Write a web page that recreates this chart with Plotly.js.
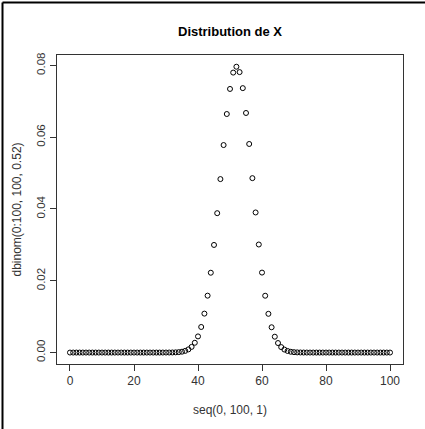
<!DOCTYPE html>
<html>
<head>
<meta charset="utf-8">
<script src="https://cdn.plot.ly/plotly-3.0.1.min.js"></script>
<style>
html,body{margin:0;padding:0;background:#fff;}
#plot{width:425px;height:429px;}
</style>
</head>
<body>
<div id="plot"></div>
<script>
const xValues = [0,1,2,3,4,5,6,7,8,9,10,11,12,13,14,15,16,17,18,19,20,
  21,22,23,24,25,26,27,28,29,30,31,32,33,34,35,36,37,38,39,40,
  41,42,43,44,45,46,47,48,49,50,51,52,53,54,55,56,57,58,59,60,
  61,62,63,64,65,66,67,68,69,70,71,72,73,74,75,76,77,78,79,80,
  81,82,83,84,85,86,87,88,89,90,91,92,93,94,95,96,97,98,99,100];
const probValues = [
  0,0,0,0,0,0,0,0,0,0,
  0,0,0,0,0,0,0,0,0,0,
  0,0,0,0,0,0,0.00000008,0.00000022,0.00000062,0.00000168,
  0.00000431,0.00001055,0.00002465,0.00005503,0.0001175,0.0002400,0.0004694,0.0008797,0.001580,0.002721,
  0.004496,0.007127,0.01085,0.01585,0.02224,0.02998,0.03883,0.04833,0.05781,0.06646,
  0.07344,0.07800,0.07963,0.07813,0.07367,0.06675,0.05811,0.04859,0.03903,0.03010,
  0.02228,0.01583,0.01079,0.007050,0.004415,0.002649,0.001522,0.0008367,0.0004399,0.0002210,
  0.0001060,0.00004853,0.00002118,0.0000088,0.00000348,0.00000131,0.00000047,0.00000016,0.00000005,0,
  0,0,0,0,0,0,0,0,0,0,
  0,0,0,0,0,0,0,0,0,0,
  0];
const xTickVals = [0,20,40,60,80,100];
const xTickText = ['0','20','40','60','80','100'];
const yTickVals = [0,0.02,0.04,0.06,0.08];
const yTickText = ['0.00','0.02','0.04','0.06','0.08'];
const titleText = 'Distribution de X';
const xTitle = 'seq(0, 100, 1)';
const yTitle = 'dbinom(0:100, 100, 0.52)';

const W = 425, H = 429;
const L = 57, R = 22, T = 55, B = 65;
const pw = W - L - R, ph = H - T - B;
function px(xp){ return (xp - L) / pw; }
function py(yp){ return (H - B - yp) / ph; }

const fontFam = '"Liberation Sans", Arial, Helvetica, sans-serif';
const axCol = '#333';

const trace = {
  x: xValues,
  y: probValues,
  type: 'scatter',
  mode: 'markers',
  marker: {symbol: 'circle-open', size: 5, color: '#000', line: {width: 1, color: '#000'}},
  hoverinfo: 'x+y'
};

const layout = {
  width: W, height: H,
  margin: {l: L, r: R, t: T, b: B, pad: 0},
  paper_bgcolor: '#fff',
  plot_bgcolor: '#fff',
  showlegend: false,
  font: {family: fontFam, size: 12, color: '#222'},
  title: {text: '<b>' + titleText + '</b>', font: {family: fontFam, size: 13, color: '#000'},
          x: px(230), xref: 'paper', xanchor: 'center', y: 1 - 31 / H, yref: 'container', yanchor: 'middle'},
  xaxis: {
    range: [-4.06, 104.06], tickmode: 'array', tickvals: xTickVals, ticktext: xTickText,
    ticks: 'outside', ticklen: 6, tickwidth: 1, tickcolor: axCol,
    showline: true, mirror: true, linecolor: axCol, linewidth: 1,
    showgrid: false, zeroline: false,
    tickfont: {family: fontFam, size: 12, color: '#333'},
    title: {text: xTitle, font: {family: fontFam, size: 12, color: '#333'}, standoff: 18},
    automargin: false
  },
  yaxis: {
    range: [-0.00319, 0.0829], tickmode: 'array', tickvals: yTickVals, ticktext: yTickText,
    tickangle: -90,
    ticks: 'outside', ticklen: 6, tickwidth: 1, tickcolor: axCol,
    showline: true, mirror: true, linecolor: axCol, linewidth: 1,
    showgrid: false, zeroline: false,
    tickfont: {family: fontFam, size: 11.5, color: '#333'},
    title: {text: yTitle, font: {family: fontFam, size: 12, color: '#333'}, standoff: 11},
    automargin: false
  },
  shapes: [
    {type: 'line', xref: 'paper', yref: 'paper', x0: px(2.5), x1: px(2.5), y0: py(429), y1: py(2.5),
     line: {color: '#000', width: 2}},
    {type: 'line', xref: 'paper', yref: 'paper', x0: px(2.5), x1: px(425), y0: py(2.5), y1: py(2.5),
     line: {color: '#000', width: 2}}
  ]
};

Plotly.newPlot('plot', [trace], layout, {displayModeBar: false, staticPlot: true});
</script>
</body>
</html>
